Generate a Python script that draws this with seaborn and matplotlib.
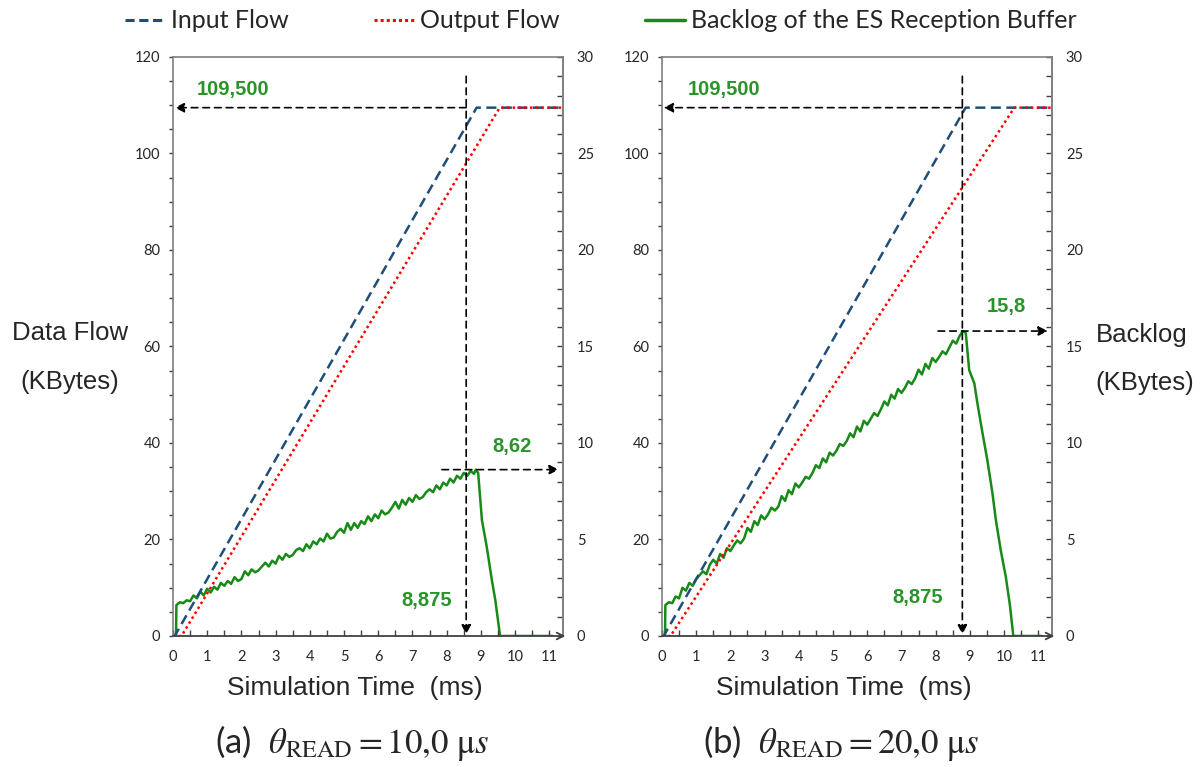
import matplotlib
matplotlib.use("Agg")
import matplotlib.pyplot as plt
from matplotlib.lines import Line2D
from matplotlib.ticker import MultipleLocator
import seaborn as sns

# --- data (time in ms, flows in KBytes) ---
input_t = [0.0, 0.05, 8.875, 11.4]
input_v = [0.0, 0.0, 109.5, 109.5]

output_t_a = [0.0, 0.25, 9.55, 11.4]
output_v_a = [0.0, 0.0, 109.5, 109.5]
output_t_b = [0.0, 0.25, 10.3, 11.4]
output_v_b = [0.0, 0.0, 109.5, 109.5]

# backlog, panel (a) theta_READ = 10 us
backlog_t_a = [0.0, 0.09,
               0.1, 0.2, 0.3, 0.4, 0.5, 0.6, 0.7, 0.8, 0.9, 1.0,
               1.1, 1.2, 1.3, 1.4, 1.5, 1.6, 1.7, 1.8, 1.9, 2.0,
               2.1, 2.2, 2.3, 2.4, 2.5, 2.6, 2.7, 2.8, 2.9, 3.0,
               3.1, 3.2, 3.3, 3.4, 3.5, 3.6, 3.7, 3.8, 3.9, 4.0,
               4.1, 4.2, 4.3, 4.4, 4.5, 4.6, 4.7, 4.8, 4.9, 5.0,
               5.1, 5.2, 5.3, 5.4, 5.5, 5.6, 5.7, 5.8, 5.9, 6.0,
               6.1, 6.2, 6.3, 6.4, 6.5, 6.6, 6.7, 6.8, 6.9, 7.0,
               7.1, 7.2, 7.3, 7.4, 7.5, 7.6, 7.7, 7.8, 7.9, 8.0,
               8.1, 8.2, 8.3, 8.4, 8.5, 8.6, 8.7, 8.8, 8.85, 8.92,
               8.96, 9.03, 9.17, 9.32, 9.42, 9.51, 9.56, 11.1]
backlog_v_a = [0.0, 0.0,
               1.60, 1.75, 1.70, 1.85, 1.80, 2.10, 1.95, 2.30, 2.10, 2.45,
               2.25, 2.55, 2.40, 2.75, 2.60, 2.85, 2.70, 3.05, 2.85, 2.95,
               3.35, 3.15, 3.45, 3.30, 3.40, 3.60, 3.80, 3.60, 3.90, 3.75,
               4.15, 3.95, 4.25, 4.10, 4.20, 4.45, 4.55, 4.40, 4.75, 4.55,
               4.90, 4.75, 5.05, 4.90, 5.30, 5.05, 5.10, 5.40, 5.55, 5.35,
               5.85, 5.50, 5.85, 5.60, 5.95, 5.80, 6.20, 5.95, 6.30, 6.10,
               6.50, 6.30, 6.40, 6.65, 6.95, 6.60, 7.05, 6.80, 7.15, 6.95,
               7.30, 7.10, 7.20, 7.45, 7.60, 7.45, 7.80, 7.60, 7.95, 7.80,
               8.15, 7.95, 8.30, 8.15, 8.45, 8.30, 8.55, 8.40, 8.62, 8.45,
               7.56, 6.00, 4.63, 2.90, 1.87, 0.67, 0.0, 0.0]

# backlog, panel (b) theta_READ = 20 us
backlog_t_b = [0.0, 0.09,
               0.1, 0.2, 0.3, 0.4, 0.5, 0.6, 0.7, 0.8, 0.9, 1.0,
               1.1, 1.2, 1.3, 1.4, 1.5, 1.6, 1.7, 1.8, 1.9, 2.0,
               2.1, 2.2, 2.3, 2.4, 2.5, 2.6, 2.7, 2.8, 2.9, 3.0,
               3.1, 3.2, 3.3, 3.4, 3.5, 3.6, 3.7, 3.8, 3.9, 4.0,
               4.1, 4.2, 4.3, 4.4, 4.5, 4.6, 4.7, 4.8, 4.9, 5.0,
               5.1, 5.2, 5.3, 5.4, 5.5, 5.6, 5.7, 5.8, 5.9, 6.0,
               6.1, 6.2, 6.3, 6.4, 6.5, 6.6, 6.7, 6.8, 6.9, 7.0,
               7.1, 7.2, 7.3, 7.4, 7.5, 7.6, 7.7, 7.8, 7.9, 8.0,
               8.1, 8.2, 8.3, 8.4, 8.5, 8.6, 8.7, 8.8, 8.88,
               8.98, 9.13, 9.22, 9.37, 9.51, 9.66, 9.76, 9.90, 10.05, 10.17,
               10.27, 11.1]
backlog_v_b = [0.0, 0.0,
               1.60, 1.75, 1.70, 2.05, 1.95, 2.50, 2.35, 2.75, 2.60, 2.95,
               3.15, 3.35, 3.20, 3.70, 3.95, 3.75, 4.25, 4.05, 4.55, 4.40,
               4.70, 4.95, 4.80, 5.05, 5.60, 5.40, 5.95, 5.75, 6.25, 6.05,
               6.30, 6.65, 6.50, 6.70, 7.25, 7.00, 7.55, 7.35, 7.90, 7.70,
               7.95, 8.25, 8.15, 8.45, 8.85, 8.70, 9.20, 9.00, 9.50, 9.35,
               9.60, 9.95, 9.85, 10.10, 10.50, 10.30, 10.85, 10.60, 11.15, 10.95,
               11.25, 11.55, 11.40, 11.75, 12.15, 11.95, 12.50, 12.30, 12.80, 12.60,
               12.85, 13.20, 13.05, 13.35, 13.80, 13.55, 14.10, 13.85, 14.40, 14.20,
               14.45, 14.75, 14.60, 14.95, 15.30, 15.15, 15.55, 15.80, 15.70,
               13.78, 13.09, 12.06, 10.50, 9.12, 7.39, 6.01, 4.46, 3.07, 1.60,
               0.0, 0.0]

x_ticks = list(range(0, 12))
flow_ticks = [0, 20, 40, 60, 80, 100, 120]
backlog_ticks = [0, 5, 10, 15, 20, 25, 30]

panel_captions = [r"(a)  $\theta_{\mathrm{READ}} = 10{,}0\ \mathrm{\mu}s$",
                  r"(b)  $\theta_{\mathrm{READ}} = 20{,}0\ \mathrm{\mu}s$"]

BLUE = "#1F4E79"
RED = "#FF0000"
GREEN = "#178A17"
TEXT_GREEN = "#2A942A"
SPINE = "#7F7F7F"

sns.set_theme(style="white")
plt.rcParams["font.family"] = ["Liberation Sans", "DejaVu Sans"]
plt.rcParams["mathtext.fontset"] = "stix"

fig = plt.figure(figsize=(12.02, 7.67), dpi=100)


def draw_panel(left, out_t, out_v, back_t, back_v, vline_x, peak, peak_label,
               peak_text_x, peak_text_y, peak_arrow_from, t875_x, t875_y,
               label109_x, caption):
    ax = fig.add_axes([left, 0.1708, 0.3245, 0.7549])
    ax2 = ax.twinx()

    sns.lineplot(x=input_t, y=input_v, ax=ax, color=BLUE, lw=1.8,
                 linestyle=(0, (4, 2.2)), estimator=None, sort=False)
    sns.lineplot(x=out_t, y=out_v, ax=ax, color=RED, lw=1.8,
                 linestyle=(0, (1, 1.3)), estimator=None, sort=False)
    sns.lineplot(x=back_t, y=back_v, ax=ax2, color=GREEN, lw=1.8,
                 estimator=None, sort=False)

    ax.set_xlim(0, 11.4)
    ax.set_ylim(0, 120)
    ax2.set_ylim(0, 30)
    ax.set_xlabel("")
    ax.set_ylabel("")

    # ticks
    ax.set_xticks(x_ticks)
    ax.xaxis.set_minor_locator(MultipleLocator(0.5))
    ax.set_yticks(flow_ticks)
    ax.yaxis.set_minor_locator(MultipleLocator(5))
    ax2.set_yticks(backlog_ticks)
    ax2.yaxis.set_minor_locator(MultipleLocator(1))
    ax.tick_params(axis="x", which="both", direction="in", length=4, width=1,
                   color="#404040", pad=10, labelsize=10.5, bottom=True)
    ax.tick_params(axis="y", which="both", direction="out", length=3, width=1,
                   color="#404040", pad=6, labelsize=10.5, left=True)
    ax2.tick_params(axis="y", which="both", direction="in", length=4, width=1,
                    color="#404040", pad=10, labelsize=10.5, right=True)
    for lab in ax.get_xticklabels() + ax.get_yticklabels() + ax2.get_yticklabels():
        lab.set_family(["Lato", "DejaVu Sans"])

    # frame
    for name in ["left", "top", "right"]:
        ax.spines[name].set_color(SPINE)
        ax.spines[name].set_linewidth(1.2)
    ax.spines["bottom"].set_visible(False)
    for name in ["left", "top", "bottom"]:
        ax2.spines[name].set_visible(False)
    ax2.spines["right"].set_color(SPINE)
    ax2.spines["right"].set_linewidth(1.2)
    ax.annotate("", xy=(1.006, 0), xytext=(0, 0), xycoords="axes fraction",
                arrowprops=dict(arrowstyle="->", color="#404040", lw=1.3,
                                shrinkA=0, shrinkB=0), annotation_clip=False)

    # dashed guide arrows
    guide = dict(arrowstyle="-|>", color="black", lw=1.2, linestyle=(0, (4, 3)),
                 mutation_scale=14, shrinkA=0, shrinkB=0)
    ax.annotate("", xy=(0.05, 109.5), xytext=(vline_x, 109.5), arrowprops=guide)
    ax.annotate("", xy=(vline_x, 0.3), xytext=(vline_x, 116), arrowprops=guide)
    ax2.annotate("", xy=(11.28, peak), xytext=(peak_arrow_from, peak),
                 arrowprops=guide, annotation_clip=False)

    # green value labels
    bold = dict(color=TEXT_GREEN, fontsize=14.5, fontweight="bold")
    ax.text(label109_x, 113.3, "109,500", ha="left", va="center", **bold)
    ax2.text(peak_text_x, peak_text_y, peak_label, ha="center", va="center", **bold)
    ax.text(t875_x, t875_y, "8,875", ha="right", va="center", **bold)

    ax.set_zorder(ax2.get_zorder() + 1)
    ax.patch.set_visible(False)

    # axis title and caption
    ax.text(0.465, -0.09, "Simulation Time  (ms)", transform=ax.transAxes,
            ha="center", va="center", fontsize=19)
    ax.text(0.46, -0.185, caption, transform=ax.transAxes, ha="center",
            va="center", fontsize=25, family=["Lato", "DejaVu Sans"])
    return ax, ax2


draw_panel(0.1439, output_t_a, output_v_a, backlog_t_a, backlog_v_a,
           vline_x=8.57, peak=8.62, peak_label="8,62", peak_text_x=9.91,
           peak_text_y=9.8, peak_arrow_from=7.86, t875_x=8.16, t875_y=7.46,
           label109_x=0.70, caption=panel_captions[0])
draw_panel(0.5507, output_t_b, output_v_b, backlog_t_b, backlog_v_b,
           vline_x=8.78, peak=15.8, peak_label="15,8", peak_text_x=10.08,
           peak_text_y=17.05, peak_arrow_from=8.07, t875_x=8.22, t875_y=7.9,
           label109_x=0.76, caption=panel_captions[1])

# side labels
fig.text(70 / 1202, 1 - 333 / 767, "Data Flow", ha="center", va="center", fontsize=18.5)
fig.text(70 / 1202, 1 - 382 / 767, "(KBytes)", ha="center", va="center", fontsize=18.5)
fig.text(1142 / 1202, 1 - 335 / 767, "Backlog", ha="center", va="center", fontsize=18.5)
fig.text(1145 / 1202, 1 - 383 / 767, "(KBytes)", ha="center", va="center", fontsize=18.5)

# legend across the top
handles = [Line2D([], [], color=BLUE, lw=2.2, linestyle=(0, (3, 1.5))),
           Line2D([], [], color=RED, lw=2.2, linestyle=(0, (1, 1))),
           Line2D([], [], color=GREEN, lw=2.5)]
labels = ["Input Flow", "Output Flow", "Backlog of the ES Reception Buffer"]
fig.legend(handles, labels, loc="center", bbox_to_anchor=(0.5, 1 - 21 / 767),
           ncol=3, frameon=False, handlelength=1.6, handletextpad=0.25,
           columnspacing=3.4, prop={"family": ["Lato", "DejaVu Sans"], "size": 18})

fig.savefig("out.png", dpi=100)
